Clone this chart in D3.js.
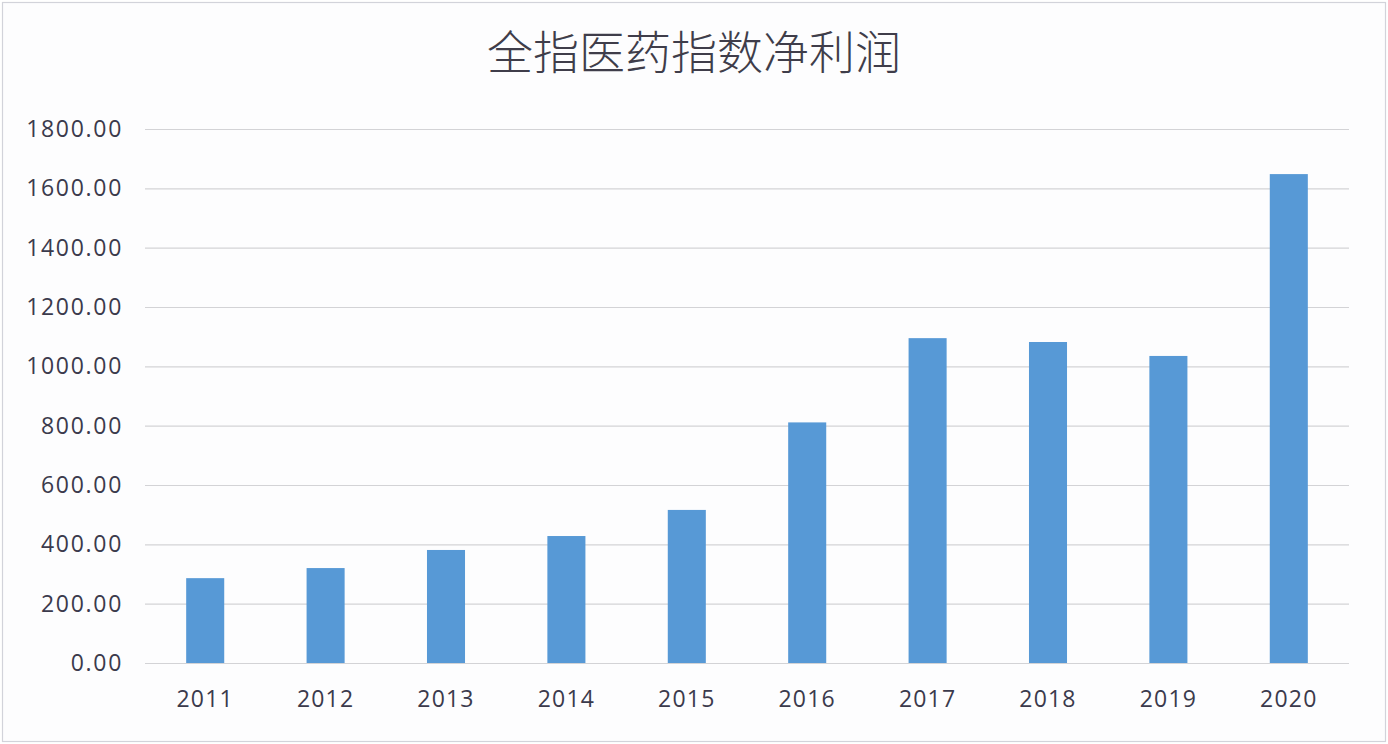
<!DOCTYPE html>
<html>
<head>
<meta charset="utf-8">
<script src="https://cdn.jsdelivr.net/npm/d3@7"></script>
<style>
  html, body { margin: 0; padding: 0; background: #ffffff; }
  svg { display: block; }
</style>
</head>
<body>
<svg id="chart" width="1388" height="744"></svg>
<script>
const title = "全指医药指数净利润";
const categories = ["2011", "2012", "2013", "2014", "2015", "2016", "2017", "2018", "2019", "2020"];
const netProfit = [286, 320, 381, 428, 516, 811, 1095, 1082, 1035, 1648];
const yTicks = [0, 200, 400, 600, 800, 1000, 1200, 1400, 1600, 1800];

const W = 1388, H = 744;
const margin = { left: 145, right: 39, top: 129, bottom: 81 };
const svg = d3.select("#chart");

svg.append("rect")
  .attr("x", 2.5).attr("y", 2.5)
  .attr("width", W - 5).attr("height", H - 5)
  .attr("fill", "#fdfdfe")
  .attr("stroke", "#d2d3da").attr("stroke-width", 1.2);

const x = d3.scaleBand()
  .domain(categories)
  .range([margin.left, W - margin.right])
  .paddingInner(0.684)
  .paddingOuter(0.342);

const y = d3.scaleLinear()
  .domain([0, 1800])
  .range([H - margin.bottom, margin.top]);

// gridlines via axis
const grid = svg.append("g")
  .attr("transform", `translate(${margin.left},0)`)
  .call(d3.axisLeft(y).tickValues(yTicks)
    .tickSize(-(W - margin.left - margin.right)).tickFormat(""));
grid.select(".domain").remove();
grid.selectAll("line").attr("stroke", "#d3d3d6").attr("stroke-width", 1.2);

// y tick labels
const yAxis = svg.append("g")
  .attr("transform", `translate(123,0)`)
  .call(d3.axisLeft(y).tickValues(yTicks).tickSize(0).tickPadding(0)
    .tickFormat(d => d3.format(".2f")(d)));
yAxis.select(".domain").remove();
yAxis.selectAll("text")
  .attr("font-family", "'Open Sans', 'Noto Sans', sans-serif")
  .attr("font-size", 23)
  .attr("letter-spacing", 1.7)
  .attr("fill", "#3b3a4c");

// x labels
const xAxis = svg.append("g")
  .attr("transform", `translate(0,${H - margin.bottom})`)
  .call(d3.axisBottom(x).tickSize(0).tickPadding(28));
xAxis.select(".domain").remove();
xAxis.selectAll("text")
  .attr("font-family", "'Open Sans', 'Noto Sans', sans-serif")
  .attr("font-size", 23)
  .attr("letter-spacing", 1.2)
  .attr("fill", "#3b3a4c");

// bars
svg.append("g").selectAll("rect")
  .data(categories.map((c, i) => ({ c, v: netProfit[i] })))
  .join("rect")
  .attr("x", d => x(d.c))
  .attr("width", x.bandwidth())
  .attr("y", d => y(d.v))
  .attr("height", d => y(0) - y(d.v))
  .attr("fill", "#5799d6");

// title
svg.append("text")
  .attr("x", 694).attr("y", 69)
  .attr("text-anchor", "middle")
  .attr("font-family", "'Noto Sans CJK SC', sans-serif")
  .attr("font-weight", 300)
  .attr("font-size", 46)
  .attr("fill", "#3f3d4a")
  .text(title);
</script>
</body>
</html>
